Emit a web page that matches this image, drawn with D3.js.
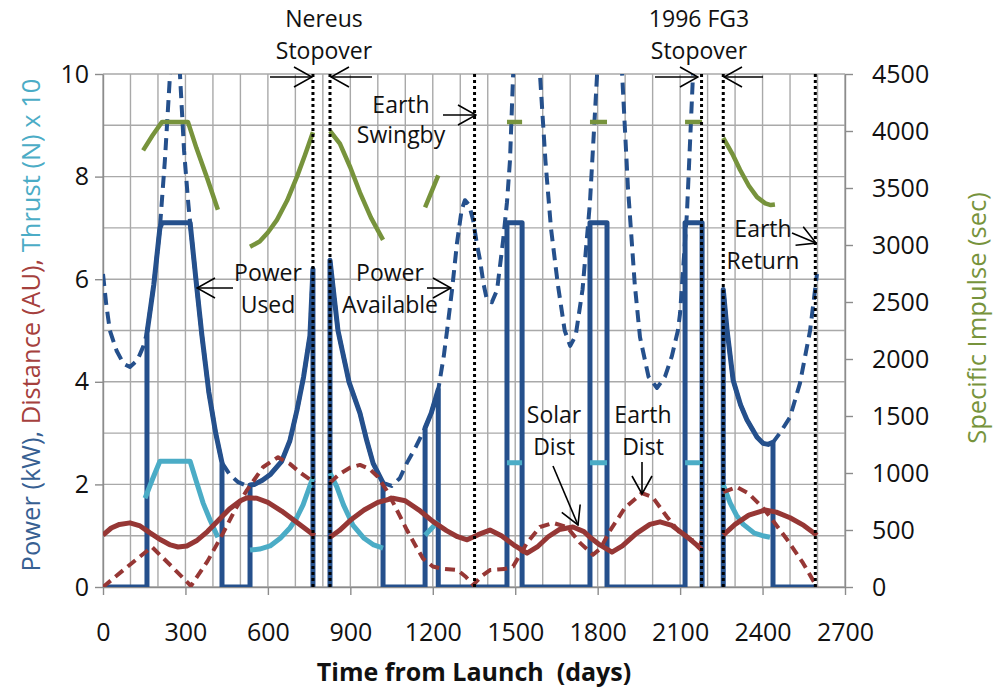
<!DOCTYPE html>
<html>
  <head>
    <meta charset="utf-8">
    <title>Mission Power Profile</title>
    <script src="https://d3js.org/d3.v7.min.js"></script>
    <style>
      body { margin: 0; background: #fff; }
      text { font-family: "Open Sans", sans-serif; }
    </style>
  </head>
  <body>
    <div id="chart">
      <script>
        // ---- data: [days, value] pairs, null = break ----
        const xTicks = [0, 300, 600, 900, 1200, 1500, 1800, 2100, 2400, 2700];
        const leftTicks = [0, 2, 4, 6, 8, 10];
        const rightTicks = [0, 500, 1000, 1500, 2000, 2500, 3000, 3500, 4000, 4500];

        // Power available (kW), dashed
        const powerAvailable = [
          [0,6.1],[12,5.5],[25,5.0],[50,4.6],[75,4.35],[98,4.29],[125,4.42],[146,4.68],[160,4.95],
          [185,5.9],[207,7.0],[225,8.3],[244,10.0],[262,10.8],[280,10.0],[295,8.5],[310,7.5],[317,7.1],
          [340,5.9],[360,4.9],[385,3.8],[410,3.0],[433,2.42],[460,2.2],[490,2.05],[520,1.98],[550,2.0],
          [580,2.08],[610,2.2],[650,2.45],[680,2.85],[706,3.45],[730,4.1],[753,4.9],[764,6.2],
          null,
          [826,6.37],[855,5.0],[895,4.0],[935,3.39],[960,2.85],[983,2.41],[1019,2.03],[1050,1.97],
          [1080,2.12],[1106,2.42],[1140,2.75],[1172,3.1],[1195,3.4],[1220,3.85],[1240,4.5],[1252,5.0],
          [1270,5.79],[1288,6.7],[1305,7.35],[1317,7.54],[1332,7.45],[1347,7.15],[1360,6.7],[1372,6.37],
          [1385,5.9],[1397,5.6],[1415,5.55],[1434,5.79],[1456,6.76],[1470,7.5],[1481,8.32],[1492,9.94],
          [1515,12],[1540,12.5],[1565,12],[1590,10],[1610,8.3],[1630,7.0],[1655,5.9],[1680,5.0],
          [1700,4.7],[1720,4.9],[1745,5.8],[1772,7.5],[1798,10],[1845,12],[1889,10],[1910,7.8],
          [1935,5.9],[1954,4.87],[1985,4.1],[2016,3.88],[2045,4.1],[2070,4.5],[2092,5.0],[2100,5.34],
          [2125,7.3],[2147,10],[2180,12],
          null,
          [2257,5.8],[2271,5.0],[2293,4.03],[2320,3.55],[2343,3.26],[2380,2.92],[2402,2.8],[2420,2.78],
          [2438,2.82],[2463,3.0],[2500,3.31],[2536,3.97],[2573,5.0],[2598,6.1]
        ];

        // Power used (kW), solid
        const powerUsed = [
          [0,0],[160,0],[160,4.95],[185,5.9],[207,7.0],[215,7.1],[317,7.1],[340,5.9],[360,4.9],
          [385,3.8],[410,3.0],[433,2.42],[433,0],[535,0],[535,1.99],[550,2.0],[580,2.08],[610,2.2],
          [650,2.45],[680,2.85],[706,3.45],[730,4.1],[753,4.9],[764,6.2],[764,0],
          null,
          [826,0],[826,6.37],[855,5.0],[895,4.0],[935,3.39],[960,2.85],[983,2.41],[1019,2.03],[1019,0],
          [1172,0],[1172,3.1],[1195,3.4],[1220,3.85],[1220,0],[1470,0],[1470,7.1],[1525,7.1],[1525,0],
          [1772,0],[1772,7.1],[1834,7.1],[1834,0],[2118,0],[2118,7.1],[2180,7.1],[2180,0],
          null,
          [2257,0],[2257,5.8],[2271,5.0],[2293,4.03],[2320,3.55],[2343,3.26],[2380,2.92],[2402,2.8],
          [2420,2.78],[2438,2.82],[2438,0],[2598,0]
        ];

        // Thrust (N x 10)
        const thrust = [
          [153,1.73],[180,2.1],[207,2.45],[317,2.45],[340,2.05],[364,1.64],[390,1.3],[418,0.97],
          null,
          [535,0.72],[570,0.74],[608,0.8],[645,0.95],[680,1.15],[705,1.35],[728,1.6],[748,1.9],[764,2.14],
          null,
          [826,2.22],[851,1.95],[875,1.6],[910,1.2],[950,0.95],[985,0.82],[1019,0.76],
          null,
          [1172,1.01],[1220,1.28],
          null,
          [1470,2.42],[1525,2.42],
          null,
          [1772,2.42],[1834,2.42],
          null,
          [2118,2.42],[2180,2.42],
          null,
          [2257,1.99],[2282,1.64],[2305,1.4],[2330,1.22],[2370,1.05],[2400,1.0],[2427,0.97]
        ];

        // Solar distance (AU), solid
        const solarDist = [
          [0,1.01],[30,1.15],[60,1.22],[98,1.25],[135,1.19],[170,1.06],[210,0.92],[245,0.82],[273,0.78],
          [305,0.8],[340,0.9],[380,1.08],[420,1.3],[460,1.52],[500,1.68],[524,1.74],[560,1.73],[600,1.65],
          [650,1.48],[700,1.28],[740,1.12],[770,1.0],
          null,
          [826,0.97],[860,1.1],[900,1.3],[950,1.5],[1000,1.65],[1055,1.73],[1100,1.68],[1150,1.5],
          [1200,1.28],[1250,1.1],[1290,0.98],[1325,0.92],[1365,1.02],[1408,1.11],[1450,1.0],[1500,0.8],
          [1543,0.66],[1580,0.78],[1620,0.98],[1660,1.12],[1710,1.17],[1750,1.08],[1772,0.97],[1808,0.82],
          [1852,0.68],[1890,0.8],[1940,1.04],[1990,1.22],[2027,1.27],[2070,1.2],[2120,1.0],[2160,0.82],
          [2180,0.72],
          null,
          [2257,1.01],[2300,1.22],[2350,1.4],[2409,1.5],[2450,1.46],[2500,1.35],[2550,1.2],[2598,1.01]
        ];

        // Earth distance (AU), dashed
        const earthDist = [
          [0,0],[90,0.4],[178,0.78],[250,0.4],[320,0.02],[380,0.5],[437,1.05],[480,1.5],[524,1.89],
          [583,2.34],[637,2.53],[680,2.4],[720,2.22],[770,2.03],
          null,
          [826,2.03],[860,2.2],[900,2.33],[935,2.38],[970,2.3],[1000,2.15],[1030,1.9],[1060,1.6],
          [1106,1.11],[1140,0.78],[1165,0.55],[1200,0.4],[1230,0.36],[1290,0.33],[1320,0.2],[1347,0.04],
          [1375,0.2],[1408,0.33],[1460,0.35],[1492,0.4],[1520,0.65],[1543,0.86],[1590,1.17],[1638,1.25],
          [1688,1.17],[1736,0.86],[1783,0.63],[1810,0.75],[1845,1.1],[1900,1.55],[1961,1.83],[2000,1.75],
          [2052,1.37],[2100,1.05],[2140,0.92],[2180,0.85],
          null,
          [2257,1.85],[2306,1.95],[2350,1.82],[2400,1.55],[2427,1.37],[2490,0.92],[2547,0.47],[2598,0]
        ];

        // Specific impulse (sec), right axis
        const isp = [
          [146,3830],[180,3960],[215,4080],[309,4080],[340,3850],[380,3580],[418,3310],
          null,
          [535,2985],[570,3030],[600,3110],[633,3220],[670,3390],[706,3600],[735,3790],[764,3990],
          null,
          [826,4000],[862,3890],[900,3680],[935,3460],[975,3240],[1019,3045],
          null,
          [1172,3330],[1220,3610],
          null,
          [1470,4080],[1525,4080],
          null,
          [1772,4080],[1834,4080],
          null,
          [2118,4080],[2180,4080],
          null,
          [2257,3940],[2290,3800],[2318,3660],[2350,3520],[2380,3420],[2410,3365],[2430,3350],[2445,3355]
        ];

        // event markers (days)
        const events = [764, 826, 1352, 2178, 2257, 2592];

        // ---- layout ----
        const W = 994, H = 688;
        const pLeft = 103, pRight = 845, pTop = 74, pBottom = 587;

        const svg = d3.select("#chart").append("svg")
            .attr("width", W).attr("height", H);

        const x = d3.scaleLinear().domain([0, 2700]).range([pLeft, pRight]);
        const y = d3.scaleLinear().domain([0, 10]).range([pBottom, pTop]);
        const yR = d3.scaleLinear().domain([0, 4500]).range([pBottom, pTop]);

        const defs = svg.append("defs");
        defs.append("clipPath").attr("id", "plot")
          .append("rect").attr("x", pLeft).attr("y", pTop)
          .attr("width", pRight - pLeft).attr("height", pBottom - pTop);

        defs.append("marker")
            .attr("id", "head")
            .attr("markerUnits", "userSpaceOnUse")
            .attr("viewBox", "0 0 20 22")
            .attr("refX", 19).attr("refY", 11)
            .attr("markerWidth", 20).attr("markerHeight", 22)
            .attr("orient", "auto")
          .append("path")
            .attr("d", "M1,1 L19,11 L1,21")
            .attr("fill", "none").attr("stroke", "#000").attr("stroke-width", 1.6);

        // gridlines
        const grid = svg.append("g").attr("stroke", "#a9a9a9").attr("stroke-width", 1.4);
        grid.selectAll(".v").data(d3.range(0, 2701, 100)).join("line").attr("class", "v")
            .attr("x1", d => x(d)).attr("x2", d => x(d))
            .attr("y1", pTop).attr("y2", pBottom);
        grid.selectAll(".h").data(d3.range(0, 11, 1)).join("line").attr("class", "h")
            .attr("x1", pLeft).attr("x2", pRight)
            .attr("y1", d => y(d)).attr("y2", d => y(d));

        // axes
        const fs = "25px";
        const fmt = d3.format("d");
        const gx = svg.append("g").attr("transform", `translate(0,${pBottom})`)
            .call(d3.axisBottom(x).tickValues(xTicks).tickFormat(fmt)
              .tickSize(8).tickSizeOuter(0).tickPadding(28));
        const gl = svg.append("g").attr("transform", `translate(${pLeft},0)`)
            .call(d3.axisLeft(y).tickValues(leftTicks).tickFormat(fmt)
              .tickSize(8).tickSizeOuter(0).tickPadding(6));
        const gr = svg.append("g").attr("transform", `translate(${pRight},0)`)
            .call(d3.axisRight(yR).tickValues(rightTicks).tickFormat(fmt)
              .tickSize(8).tickSizeOuter(0).tickPadding(19));
        [gx, gl, gr].forEach(g => {
          g.select(".domain").attr("stroke", "#8c8c8c").attr("stroke-width", 1.4);
          g.selectAll(".tick line").attr("stroke", "#8c8c8c").attr("stroke-width", 1.4);
          g.selectAll("text").attr("font-size", fs).attr("fill", "#111")
            .attr("font-family", "Open Sans");
        });

        // series
        const line = d3.line().defined(d => d).x(d => x(d[0])).y(d => y(d[1]));
        const lineR = d3.line().defined(d => d).x(d => x(d[0])).y(d => yR(d[1]));
        const plot = svg.append("g").attr("clip-path", "url(#plot)")
            .attr("fill", "none").attr("stroke-linejoin", "round");

        const blue = "#25508c", red = "#963735", cyan = "#4bacc6", green = "#77933c";

        plot.append("path").attr("d", line(powerAvailable))
            .attr("stroke", blue).attr("stroke-width", 4).attr("stroke-dasharray", "12,7");
        plot.append("path").attr("d", line(powerUsed))
            .attr("stroke", blue).attr("stroke-width", 5);
        plot.append("path").attr("d", line(thrust))
            .attr("stroke", cyan).attr("stroke-width", 5);
        plot.append("path").attr("d", line(solarDist))
            .attr("stroke", red).attr("stroke-width", 5);
        plot.append("path").attr("d", line(earthDist))
            .attr("stroke", red).attr("stroke-width", 4).attr("stroke-dasharray", "10,6");
        plot.append("path").attr("d", lineR(isp))
            .attr("stroke", green).attr("stroke-width", 4.5);

        // dotted event lines
        svg.append("g").selectAll("line").data(events).join("line")
            .attr("x1", d => x(d)).attr("x2", d => x(d))
            .attr("y1", pTop).attr("y2", pBottom)
            .attr("stroke", "#000").attr("stroke-width", 3).attr("stroke-dasharray", "3,3");

        // annotations
        const notes = [
          {lines: ["Nereus", "Stopover"], x: 324, y: [27, 59]},
          {lines: ["1996 FG3", "Stopover"], x: 699, y: [27, 59]},
          {lines: ["Earth", "Swingby"], x: 401, y: [113, 143]},
          {lines: ["Power", "Used"], x: 268, y: [281, 313]},
          {lines: ["Power", "Available"], x: 390, y: [281, 313]},
          {lines: ["Earth", "Return"], x: 763, y: [237, 269]},
          {lines: ["Solar", "Dist"], x: 554, y: [423, 455]},
          {lines: ["Earth", "Dist"], x: 643, y: [423, 455]}
        ];
        const ann = svg.append("g").attr("font-size", "23px").attr("fill", "#111")
            .attr("text-anchor", "middle");
        notes.forEach(n => n.lines.forEach((t, i) =>
          ann.append("text").attr("x", n.x).attr("y", n.y[i]).text(t)));

        const arrows = [
          [270, 77, 312, 77], [372, 77, 331, 77],
          [655, 77, 698, 77], [763, 77, 724, 77],
          [443, 115, 476, 115],
          [233, 288, 197, 288],
          [427, 288, 451, 288],
          [792, 233, 816, 243],
          [553, 466, 578, 525],
          [642, 462, 642, 494]
        ];
        svg.append("g").selectAll("line").data(arrows).join("line")
            .attr("x1", d => d[0]).attr("y1", d => d[1])
            .attr("x2", d => d[2]).attr("y2", d => d[3])
            .attr("stroke", "#000").attr("stroke-width", 1.6)
            .attr("marker-end", "url(#head)");

        // axis titles
        const lt = svg.append("text")
            .attr("transform", "translate(40,325) rotate(-90)")
            .attr("text-anchor", "middle").attr("font-size", "25.5px");
        lt.append("tspan").attr("fill", "#376092").text("Power (kW), ");
        lt.append("tspan").attr("fill", "#a5403d").text("Distance (AU), ");
        lt.append("tspan").attr("fill", cyan).text("Thrust (N) x 10");

        svg.append("text")
            .attr("transform", "translate(986,318) rotate(-90)")
            .attr("text-anchor", "middle").attr("font-size", "25.5px")
            .attr("fill", green).text("Specific Impulse (sec)");

        svg.append("text")
            .attr("x", 474).attr("y", 681)
            .attr("text-anchor", "middle").attr("font-size", "25px")
            .attr("font-weight", "bold").attr("fill", "#111")
            .style("white-space", "pre")
            .text("Time from Launch  (days)");
      </script>
    </div>
  </body>
</html>
